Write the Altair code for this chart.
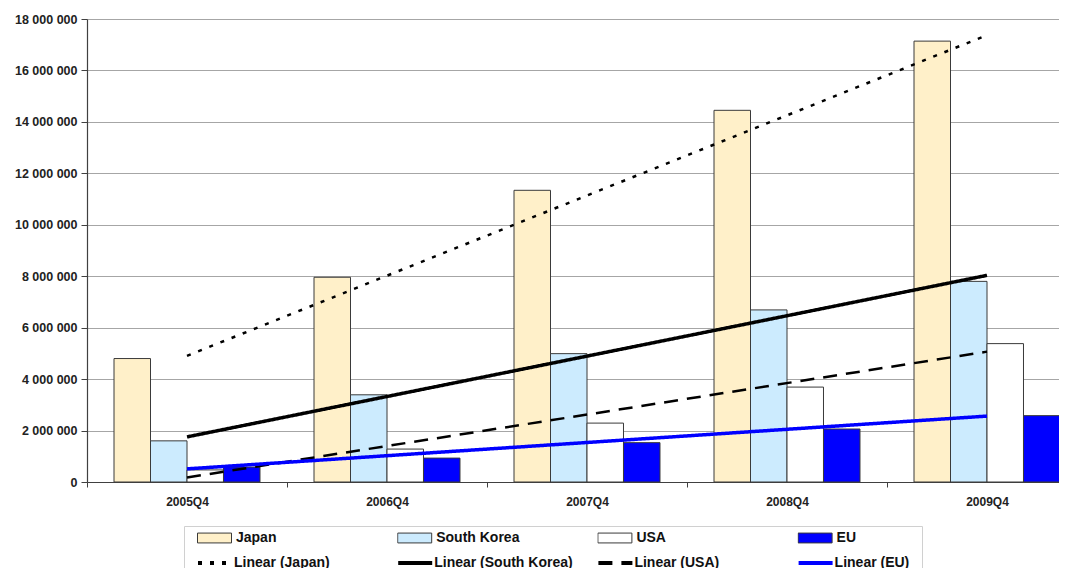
import json
import altair as alt
import pandas as pd

quarters = ["2005Q4", "2006Q4", "2007Q4", "2008Q4", "2009Q4"]
countries = ["Japan", "South Korea", "USA", "EU"]
japan = [4800000, 7960000, 11340000, 14450000, 17140000]
south_korea = [1600000, 3390000, 4990000, 6690000, 7800000]
usa = [470000, 1280000, 2290000, 3690000, 5380000]
eu = [580000, 930000, 1530000, 2060000, 2580000]
y_ticks = [0, 2000000, 4000000, 6000000, 8000000, 10000000,
           12000000, 14000000, 16000000, 18000000]

series = {"Japan": japan, "South Korea": south_korea, "USA": usa, "EU": eu}
rows = []
for c in countries:
    for i, q in enumerate(quarters):
        rows.append({"quarter": q, "idx": i, "country": c, "value": series[c][i]})
df = pd.DataFrame(rows)

trend_names = ["Linear (" + c + ")" for c in countries]
bar_colors = ["#FFF0C9", "#CCEBFE", "#FFFFFF", "#0000FF"]
trend_colors = ["#000000", "#000000", "#000000", "#0000FF"]
trend_dashes = [[4, 8], [1, 0], [14, 9], [1, 0]]

FONT = "Liberation Sans"

x_scale = alt.Scale(domain=quarters, paddingInner=0, paddingOuter=0)
x_axis = alt.Axis(title=None, labelAngle=0, tickBand="extent", tickSize=5,
                  tickColor="#404040", domainColor="#404040", domainWidth=1.2,
                  labelFont=FONT, labelFontSize=12, labelFontWeight="bold",
                  labelColor="#222222", labelPadding=9, grid=False)
y_scale = alt.Scale(domain=[0, 18000000], nice=False)
y_axis = alt.Axis(title=None, values=y_ticks,
                  labelExpr="replace(replace(format(datum.value, ',d'), ',', ' '), ',', ' ')",
                  labelFont=FONT, labelFontSize=12.5, labelFontWeight="bold",
                  labelColor="#222222", labelPadding=4, tickSize=6,
                  tickColor="#404040", domainColor="#404040", domainWidth=1.2,
                  gridColor="#a6a6a6", gridWidth=1, grid=True)

bars = alt.Chart(df).mark_bar(stroke="#3a3a3a", strokeWidth=1).encode(
    x=alt.X("quarter:N", sort=quarters, scale=x_scale, axis=x_axis),
    xOffset=alt.XOffset("country:N", sort=countries,
                        scale=alt.Scale(domain=countries, paddingOuter=0.74, paddingInner=0)),
    y=alt.Y("value:Q", scale=y_scale, axis=y_axis),
    fill=alt.Fill("country:N", scale=alt.Scale(domain=countries, range=bar_colors),
                  legend=alt.Legend(
                      title=None, orient="none", legendX=110, legendY=510,
                      direction="horizontal", columns=4, gridAlign="all",
                      columnPadding=77.2, clipHeight=18, padding=0,
                      symbolType="M-1,-0.29H1V0.29H-1Z", symbolSize=1156,
                      symbolStrokeColor="#3a3a3a", symbolStrokeWidth=1,
                      labelOffset=4, labelFont=FONT,
                      labelFontSize=14, labelFontWeight="bold",
                      labelColor="#111111", labelLimit=300, zindex=2)),
)

label_expr = json.dumps(quarters) + "[datum.idx]"
pad = "\u00a0" * 36
line_legend = alt.Legend(
    title=" ", titleFontSize=6, titlePadding=0, orient="none",
    legendX=97, legendY=507, direction="horizontal", columns=4,
    gridAlign="all", columnPadding=17.2, padding=12,
    symbolType="stroke", symbolSize=1156, symbolStrokeWidth=4,
    labelOffset=0, labelFont=FONT, labelFontSize=14,
    labelFontWeight="bold", labelColor="#111111", labelLimit=500,
    labelExpr="datum.label === 'Linear (EU)' ? datum.label + '" + pad + "' : datum.label",
    strokeColor="#d0d0d0", zindex=1)

lines = alt.Chart(df).transform_regression(
    "idx", "value", groupby=["country"], method="linear", extent=[0, 4]
).transform_calculate(
    quarter=label_expr,
    trend="'Linear (' + datum.country + ')'",
).mark_line(strokeCap="butt").encode(
    x=alt.X("quarter:N", sort=quarters, scale=x_scale, axis=x_axis),
    y=alt.Y("value:Q", scale=y_scale, axis=y_axis),
    stroke=alt.Stroke("trend:N", scale=alt.Scale(domain=trend_names, range=trend_colors),
                      legend=line_legend),
    strokeDash=alt.StrokeDash("trend:N", scale=alt.Scale(domain=trend_names, range=trend_dashes),
                              legend=line_legend),
    strokeWidth=alt.condition("datum.trend === 'Linear (Japan)' || datum.trend === 'Linear (USA)'",
                              alt.value(2.5), alt.value(3.5)),
)

chart = alt.layer(bars, lines).properties(
    width=1000, height=463,
    autosize=alt.AutoSizeParams(type="none"),
    padding={"left": 79, "top": 11, "right": -28, "bottom": 100},
).configure_view(stroke="transparent").configure(background="#ffffff")

chart.save("out.html", embed_options={"renderer": "svg", "actions": False})
